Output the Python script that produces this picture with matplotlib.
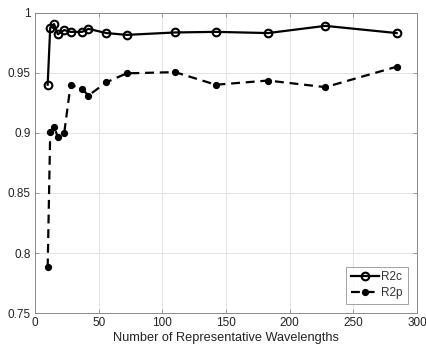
import matplotlib
matplotlib.use("Agg")
import matplotlib.pyplot as plt

n_wavelengths = [10, 12, 15, 18, 23, 28, 37, 42, 56, 72, 110, 142, 183, 228, 284]
r2c = [0.940, 0.9875, 0.9905, 0.982, 0.9855, 0.984, 0.984, 0.9865, 0.983, 0.9815,
       0.9835, 0.984, 0.983, 0.989, 0.983]
r2p = [0.788, 0.901, 0.905, 0.8965, 0.900, 0.940, 0.9365, 0.931, 0.942, 0.9495,
       0.9505, 0.940, 0.9435, 0.938, 0.955]
xticks = [0, 50, 100, 150, 200, 250, 300]
yticks = [0.75, 0.8, 0.85, 0.9, 0.95, 1.0]
yticklabels = ["0.75", "0.8", "0.85", "0.9", "0.95", "1"]

plt.rcParams['font.family'] = ['Liberation Sans', 'DejaVu Sans']
fig = plt.figure(figsize=(4.26, 3.51), dpi=100)
ax = fig.add_axes([0.082, 0.108, 0.897, 0.856])

ax.plot(n_wavelengths, r2c, '-', color='black', lw=1.6, marker='o', ms=5.5,
        mfc='none', mew=1.5, label='R2c')
ax.plot(n_wavelengths, r2p, '--', color='black', lw=1.6, marker='o', ms=4.2,
        mfc='black', dashes=(4, 2.6), label='R2p')

ax.set_xlim(0, 300)
ax.set_ylim(0.75, 1.0)
ax.set_xticks(xticks)
ax.set_yticks(yticks)
ax.set_yticklabels(yticklabels)
ax.grid(True, color='#e3e3e3', lw=0.7)
ax.set_axisbelow(True)
for s in ax.spines.values():
    s.set_color('#8a8a8a')
    s.set_linewidth(0.7)
ax.tick_params(direction='in', top=True, right=True, labelsize=8.5, colors='#8a8a8a',
               labelcolor='#222222', length=3, width=0.6, pad=3)
ax.set_xlabel('Number of Representative Wavelengths', fontsize=9.2, color='#222222', labelpad=2)

leg = ax.legend(loc='lower right', fontsize=8.5, fancybox=False, edgecolor='#8a8a8a',
                handlelength=2.4, borderpad=0.4, labelspacing=0.3, handletextpad=0.2,
                borderaxespad=0.8)
leg.get_frame().set_linewidth(0.7)
for t in leg.get_texts():
    t.set_color('#333333')

fig.savefig('out.png', dpi=100)
